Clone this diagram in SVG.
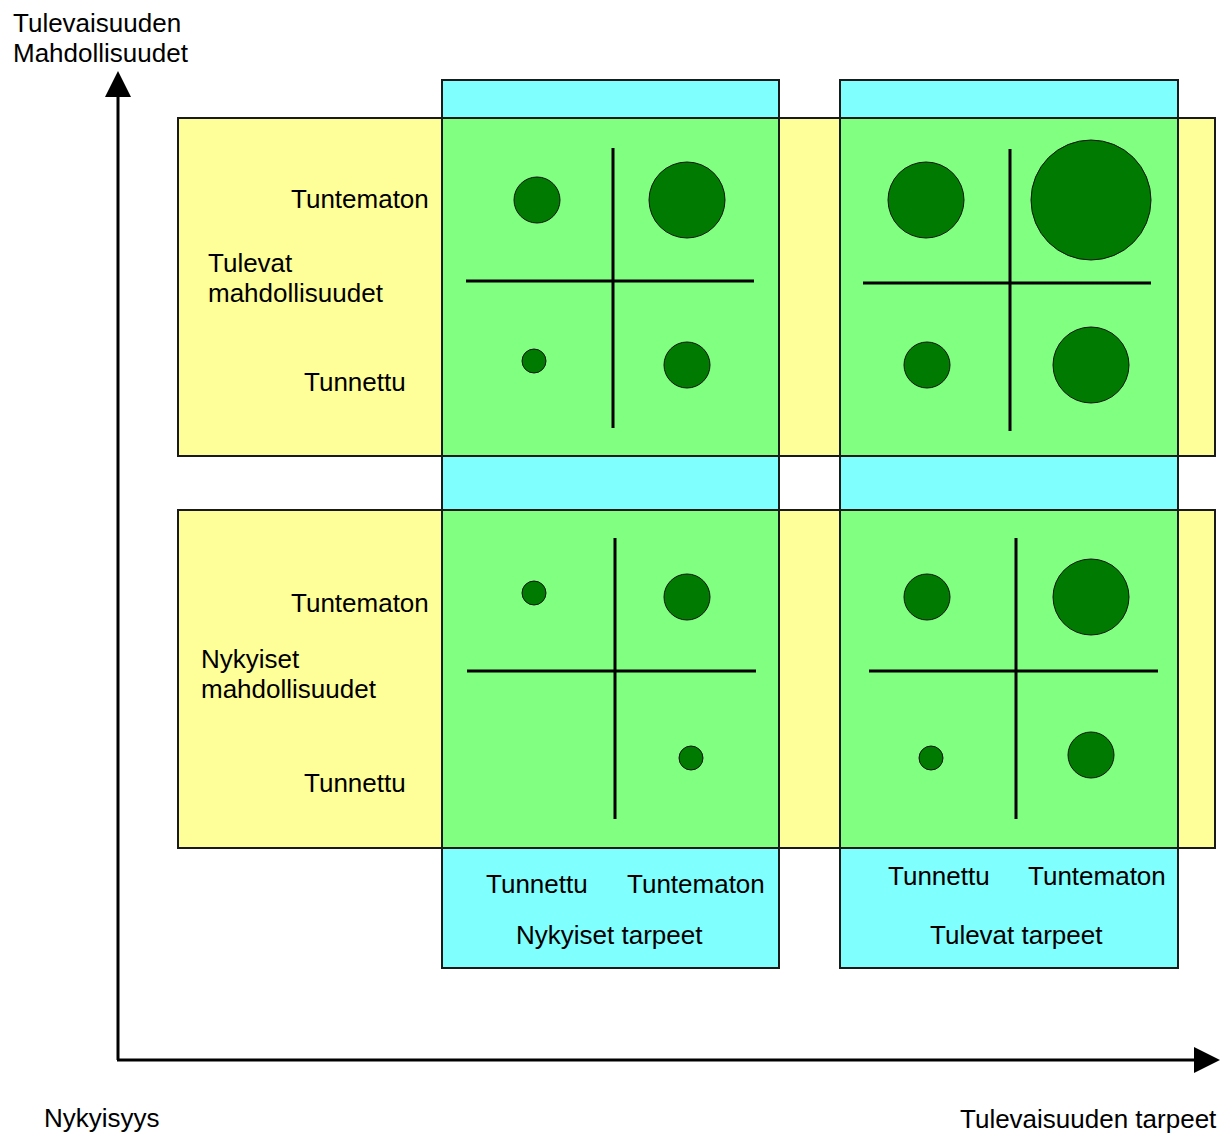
<svg xmlns="http://www.w3.org/2000/svg" width="1231" height="1135" viewBox="0 0 1231 1135">
<style>
text{font-family:"Liberation Sans",Arial,sans-serif;font-size:26px;fill:#000}
.cy{fill:#80FFFF;stroke:#1a1a1a;stroke-width:2}
.ye{fill:#FFFF99;stroke:#1a1a1a;stroke-width:2}
.gr{fill:#80FF80;stroke:#1a1a1a;stroke-width:2}
.q{stroke:#000;stroke-width:3;fill:none}
.c{fill:#007A00;stroke:#111;stroke-width:1}
.ax{stroke:#000;stroke-width:3;fill:none}
</style>
<defs>
<marker id="ah" viewBox="0 0 26 26" refX="0" refY="13" markerWidth="26" markerHeight="26" markerUnits="userSpaceOnUse" orient="auto">
<path d="M0,0 L26,13 L0,26 Z" fill="#000"/>
</marker>
</defs>
<g id="columns">
<rect class="cy" x="442" y="80" width="337" height="888"/>
<rect class="cy" x="840" y="80" width="338" height="888"/>
</g>
<g id="rows">
<rect class="ye" x="178" y="118" width="1037" height="338"/>
<rect class="ye" x="178" y="510" width="1037" height="338"/>
</g>
<g id="cell-top-left">
<rect class="gr" x="442" y="118" width="337" height="338"/>
<line class="q" x1="613" y1="148" x2="613" y2="428"/>
<line class="q" x1="466" y1="281" x2="754" y2="281"/>
<circle class="c" cx="537" cy="200" r="23"/>
<circle class="c" cx="687" cy="200" r="38"/>
<circle class="c" cx="534" cy="361" r="12"/>
<circle class="c" cx="687" cy="365" r="23"/>
</g>
<g id="cell-top-right">
<rect class="gr" x="840" y="118" width="338" height="338"/>
<line class="q" x1="1010" y1="149" x2="1010" y2="431"/>
<line class="q" x1="863" y1="283" x2="1151" y2="283"/>
<circle class="c" cx="926" cy="200" r="38"/>
<circle class="c" cx="1091" cy="200" r="60"/>
<circle class="c" cx="927" cy="365" r="23"/>
<circle class="c" cx="1091" cy="365" r="38"/>
</g>
<g id="cell-bottom-left">
<rect class="gr" x="442" y="510" width="337" height="338"/>
<line class="q" x1="615" y1="538" x2="615" y2="819"/>
<line class="q" x1="467" y1="671" x2="756" y2="671"/>
<circle class="c" cx="534" cy="593" r="12"/>
<circle class="c" cx="687" cy="597" r="23"/>
<circle class="c" cx="691" cy="758" r="12"/>
</g>
<g id="cell-bottom-right">
<rect class="gr" x="840" y="510" width="338" height="338"/>
<line class="q" x1="1016" y1="538" x2="1016" y2="819"/>
<line class="q" x1="869" y1="671" x2="1158" y2="671"/>
<circle class="c" cx="927" cy="597" r="23"/>
<circle class="c" cx="1091" cy="597" r="38"/>
<circle class="c" cx="931" cy="758" r="12"/>
<circle class="c" cx="1091" cy="755" r="23"/>
</g>
<g id="connectors">
<path class="ax" d="M118,1060 L118,97" marker-end="url(#ah)"/>
<path class="ax" d="M117,1060 L1194,1060" marker-end="url(#ah)"/>
</g>
<g id="labels">
<text x="13" y="32">Tulevaisuuden</text>
<text x="13" y="62">Mahdollisuudet</text>
<text x="44" y="1127">Nykyisyys</text>
<text x="960" y="1128">Tulevaisuuden tarpeet</text>
<text x="291" y="208">Tuntematon</text>
<text x="208" y="272">Tulevat</text>
<text x="208" y="302">mahdollisuudet</text>
<text x="304" y="391">Tunnettu</text>
<text x="291" y="612">Tuntematon</text>
<text x="201" y="668">Nykyiset</text>
<text x="201" y="698">mahdollisuudet</text>
<text x="304" y="792">Tunnettu</text>
<text x="486" y="893">Tunnettu</text>
<text x="627" y="893">Tuntematon</text>
<text x="516" y="944">Nykyiset tarpeet</text>
<text x="888" y="885">Tunnettu</text>
<text x="1028" y="885">Tuntematon</text>
<text x="930" y="944">Tulevat tarpeet</text>
</g>
</svg>
